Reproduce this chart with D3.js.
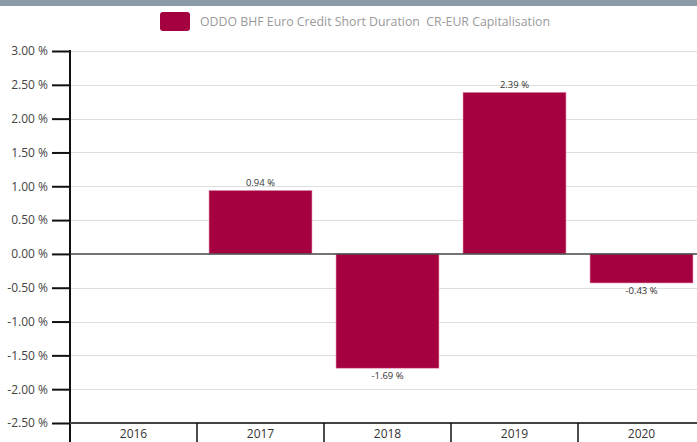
<!DOCTYPE html>
<html>
<head>
<meta charset="utf-8">
<script src="https://cdn.jsdelivr.net/npm/d3@7"></script>
<style>
  body { margin: 0; background: #fff; }
  svg { display: block; font-family: "Open Sans", "Noto Sans", sans-serif; }
</style>
</head>
<body>
<svg width="697" height="442"></svg>
<script>
// data
var years = ['2016', '2017', '2018', '2019', '2020'];
var perf = [null, 0.94, -1.69, 2.39, -0.43];
var yTicks = [3, 2.5, 2, 1.5, 1, 0.5, 0, -0.5, -1, -1.5, -2, -2.5];
var seriesName = 'ODDO BHF Euro Credit Short Duration  CR-EUR Capitalisation';

var W = 697, H = 442;
var plotLeft = 70, plotTop = 51, plotBottom = 423;
var barColor = '#a5003f';

// plain hyphen for negatives, like the original
var fmt = d3.formatLocale({decimal: '.', thousands: ',', grouping: [3], currency: ['', ''], minus: '-'}).format('.2f');
var pct = d => fmt(d) + ' %';

var svg = d3.select('svg');

// top grey strip
svg.append('rect')
  .attr('x', 0).attr('y', 0)
  .attr('width', W).attr('height', 6)
  .style('fill', '#8b9baa');

// legend
svg.append('rect')
  .attr('x', 160).attr('y', 12)
  .attr('width', 30).attr('height', 19)
  .attr('rx', 3)
  .style('fill', barColor);
svg.append('text')
  .attr('x', 200).attr('y', 26)
  .style('font-size', '13px')
  .style('fill', '#9a9a9a')
  .style('white-space', 'pre')
  .attr('textLength', 350)
  .attr('lengthAdjust', 'spacingAndGlyphs')
  .text(seriesName);

var y = d3.scaleLinear()
  .domain([-2.5, 3])
  .range([plotBottom, plotTop]);

var x = d3.scaleBand()
  .domain(years)
  .range([plotLeft, plotLeft + 127 * years.length])
  .padding(0);

// gridlines
svg.append('g')
  .selectAll('line')
  .data(yTicks.filter(d => d !== 0 && d !== -2.5))
  .enter()
  .append('line')
    .attr('x1', plotLeft).attr('x2', W)
    .attr('y1', d => Math.round(y(d)) + 0.5)
    .attr('y2', d => Math.round(y(d)) + 0.5)
    .style('stroke', '#dedede')
    .style('stroke-width', 1);

// bars
var inset = 12;
var data = years.map((d, i) => ({year: d, v: perf[i]})).filter(d => d.v !== null);

svg.append('g')
  .selectAll('rect')
  .data(data)
  .enter()
  .append('rect')
    .attr('x', d => x(d.year) + inset)
    .attr('y', d => y(Math.max(0, d.v)))
    .attr('width', x.bandwidth() - 2 * inset)
    .attr('height', d => Math.abs(y(d.v) - y(0)))
    .style('fill', barColor)
    .style('stroke', '#e6a3bd')
    .style('stroke-width', 0.6);

// value labels
svg.append('g')
  .selectAll('text')
  .data(data)
  .enter()
  .append('text')
    .attr('x', d => x(d.year) + x.bandwidth() / 2)
    .attr('y', d => d.v >= 0 ? y(d.v) - 4 : y(d.v) + 11)
    .attr('text-anchor', 'middle')
    .style('font-size', '9.5px')
    .style('fill', '#333')
    .text(d => pct(d.v));

// zero line
svg.append('line')
  .attr('x1', plotLeft).attr('x2', W)
  .attr('y1', y(0)).attr('y2', y(0))
  .style('stroke', '#444')
  .style('stroke-width', 1.5);

// y axis
var yAxis = d3.axisLeft(y)
  .tickValues(yTicks)
  .tickSize(18)
  .tickPadding(4)
  .tickFormat(pct);

var gy = svg.append('g')
  .attr('transform', 'translate(' + plotLeft + ',0)')
  .call(yAxis);
gy.select('.domain').remove();
gy.selectAll('line').style('stroke', '#111').style('stroke-width', 2);
gy.selectAll('text').style('font-size', '12px').style('fill', '#444').style('font-family', '"Open Sans", sans-serif');

svg.append('line')
  .attr('x1', plotLeft).attr('x2', plotLeft)
  .attr('y1', plotTop - 1).attr('y2', H)
  .style('stroke', '#111')
  .style('stroke-width', 2);

// x axis
svg.append('line')
  .attr('x1', plotLeft).attr('x2', W)
  .attr('y1', plotBottom).attr('y2', plotBottom)
  .style('stroke', '#444')
  .style('stroke-width', 2);

var gx = svg.append('g');
gx.selectAll('line')
  .data(years.slice(1))
  .enter()
  .append('line')
    .attr('x1', d => x(d)).attr('x2', d => x(d))
    .attr('y1', plotBottom).attr('y2', H)
    .style('stroke', '#111')
    .style('stroke-width', 1.5);
gx.selectAll('text')
  .data(years)
  .enter()
  .append('text')
    .attr('x', d => x(d) + x.bandwidth() / 2)
    .attr('y', 438)
    .attr('text-anchor', 'middle')
    .style('font-size', '12px')
    .style('fill', '#333')
    .text(d => d);
</script>
</body>
</html>
